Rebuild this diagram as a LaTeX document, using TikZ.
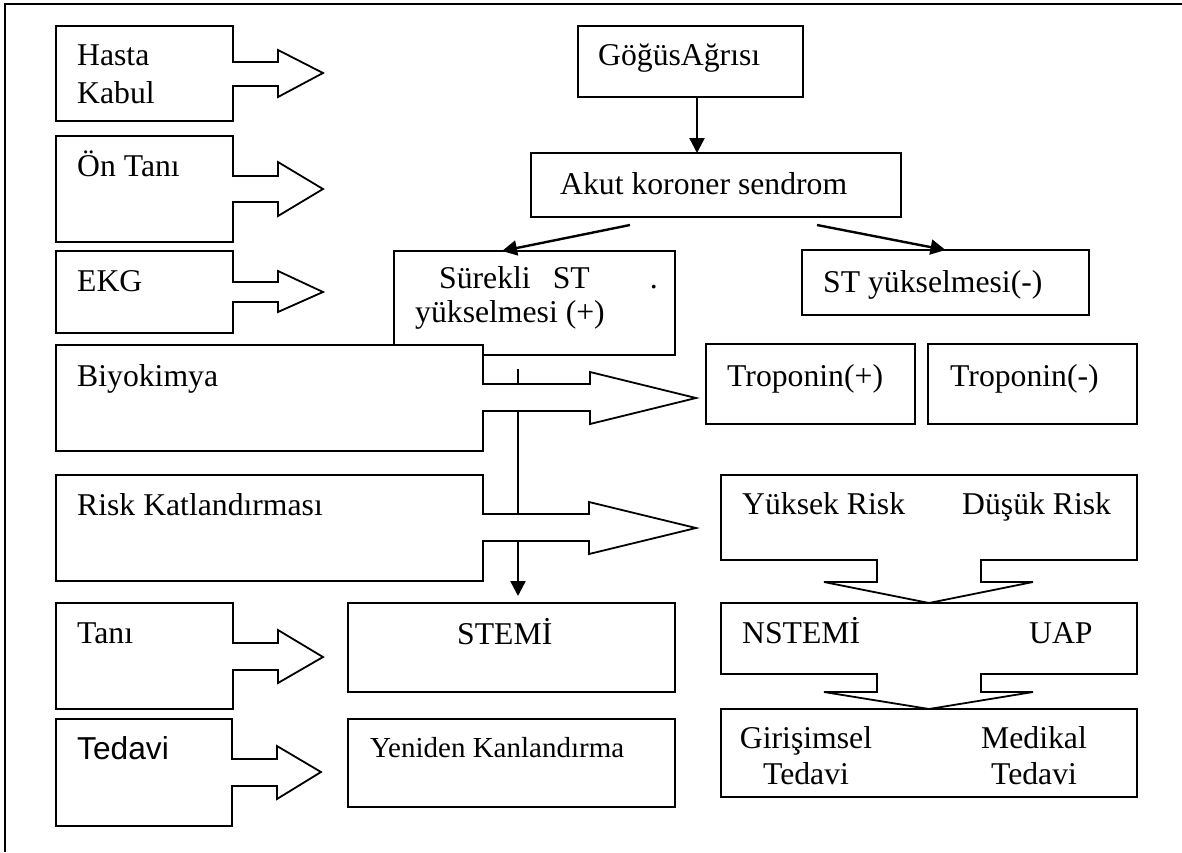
\documentclass[tikz,border=0pt]{standalone}
\usepackage{fontspec}
\setmainfont{Liberation Serif}
\newfontfamily\arialfont{Liberation Sans}
\usetikzlibrary{arrows.meta,fit}
\begin{document}
\begin{tikzpicture}[x=1pt,y=-1pt,
  box/.style={draw, line width=1.8pt, inner sep=0pt, outer sep=0pt, fill=white},
  shp/.style={draw, line width=1.8pt, fill=white, line join=miter},
  txt/.style={anchor=base west, inner sep=0pt, font=\fontsize{31.7}{38}\selectfont},
  txtc/.style={anchor=base, inner sep=0pt, align=center, font=\fontsize{31.7}{36}\selectfont},
  conn/.style={line width=2.4pt, -{Triangle[length=15pt,width=15pt]}},
]
\useasboundingbox (0,0) rectangle (1182,852);
% frame
\draw[line width=1.8pt] (5,852) -- (5,4) -- (1182,4);

% centre column boxes
\node[box, fit={(578,26) (803,97)}] (gogus) {};
\node[box, fit={(531,153) (901,217)}] (akut) {};
\node[box, fit={(394,251) (675,355)}] (surekli) {};
\node[box, fit={(802,250) (1089,315)}] (stminus) {};
\node[box, fit={(706,344) (915,424)}] (tropp) {};
\node[box, fit={(928,344) (1137,424)}] (tropm) {};
\node[box, fit={(348,603) (675,692)}] (stemi) {};
\node[box, fit={(348,719) (675,807)}] (yeniden) {};

% connectors
\draw[conn] ([xshift=6.5pt]gogus.south) -- ([xshift=6.5pt]gogus.south |- akut.north);
\draw[conn] ([xshift=-86pt,yshift=-8pt]akut.south) -- ([xshift=-32.5pt]surekli.north);
\draw[conn] ([xshift=101pt,yshift=-8pt]akut.south) -- (stminus.north);
\coordinate (v) at (518,369);
\draw[conn, shorten >=7pt] (v) -- (v |- stemi.north);

% left callouts
\draw[shp] (56,26) -- (233,26) -- (233,62) -- (278,62) -- (278,50) -- (323,73) -- (278,97) -- (278,86) -- (233,86) -- (233,121) -- (56,121) -- cycle;
\draw[shp] (56,136) -- (233,136) -- (233,176) -- (278,176) -- (278,162) -- (323,189) -- (278,216) -- (278,202) -- (233,202) -- (233,242) -- (56,242) -- cycle;
\draw[shp] (56,251) -- (233,251) -- (233,282) -- (278,282) -- (278,271) -- (323,292) -- (278,312) -- (278,302) -- (233,302) -- (233,333) -- (56,333) -- cycle;
\draw[shp] (56,345) -- (483,345) -- (483,384) -- (590,384) -- (590,372) -- (696,398) -- (590,424) -- (590,411) -- (483,411) -- (483,451) -- (56,451) -- cycle;
\draw[shp] (56,475) -- (483,475) -- (483,514) -- (589,514) -- (589,502) -- (696,528) -- (589,554) -- (589,541) -- (483,541) -- (483,581) -- (56,581) -- cycle;
\draw[shp] (56,603) -- (233,603) -- (233,643) -- (278,643) -- (278,630) -- (323,657) -- (278,683) -- (278,670) -- (233,670) -- (233,709) -- (56,709) -- cycle;
\draw[shp] (56,719) -- (232,719) -- (232,759) -- (277,759) -- (277,746) -- (321,772) -- (277,799) -- (277,786) -- (232,786) -- (232,826) -- (56,826) -- cycle;

% right column
\node[box, fit={(721,709) (1137,797)}] (giris) {};
\draw[shp] (721,603) -- (1137,603) -- (1137,674) -- (981,674) -- (981,692) -- (1033,692) -- (929,709) -- (824,692) -- (877,692) -- (877,674) -- (721,674) -- cycle;
\draw[shp] (721,475) -- (1137,475) -- (1137,560) -- (981,560) -- (981,582) -- (1033,582) -- (929,603) -- (824,582) -- (877,582) -- (877,560) -- (721,560) -- cycle;

% texts (multi-line nodes: base anchor is the last line's baseline)
\node[txt, align=left] (t-hasta) at (77,103) {Hasta\\Kabul};
\node[txt] (t-ontani) at (77,176) {Ön Tanı};
\node[txt] (t-ekg) at (77,291) {EKG};
\node[txt] (t-biyo) at (77,386) {Biyokimya};
\node[txt] (t-risk) at (77,515) {Risk Katlandırması};
\node[txt] (t-tani) at (77,643) {Tanı};
\node[txt, font=\arialfont\fontsize{31.7}{38}\selectfont] (t-tedavi) at (77,759) {Tedavi};

\node[txt] (t-gogus) at (598,65) {GöğüsAğrısı};
\node[txt] (t-akut) at (560,194) {Akut koroner sendrom};
\node[txt, align=left, font=\fontsize{31.7}{34}\selectfont] (t-surekli) at (415,322) {\hspace*{24pt}Sürekli\hspace{22pt}ST\hspace{60pt}.\\yükselmesi (+)};
\node[txt] (t-stminus) at (823,292) {ST yükselmesi(-)};
\node[txt] (t-tropp) at (727,386) {Troponin(+)};
\node[txt] (t-tropm) at (950,386) {Troponin(-)};
\node[txt] (t-yuksek) at (742,514) {Yüksek Risk};
\node[txt] (t-dusuk) at (962,514) {Düşük Risk};
\node[txt] (t-nstemi) at (742,643) {NSTEMİ};
\node[txt] (t-uap) at (1029,643) {UAP};
\node[txtc] (t-giris) at (806,784) {Girişimsel\\Tedavi};
\node[txtc] (t-medikal) at (1034,784) {Medikal\\Tedavi};
\node[txt] (t-stemi) at (457,644) {STEMİ};
\node[txt, font=\fontsize{29}{35}\selectfont] (t-yeniden) at (370,757) {Yeniden Kanlandırma};
\end{tikzpicture}
\end{document}
